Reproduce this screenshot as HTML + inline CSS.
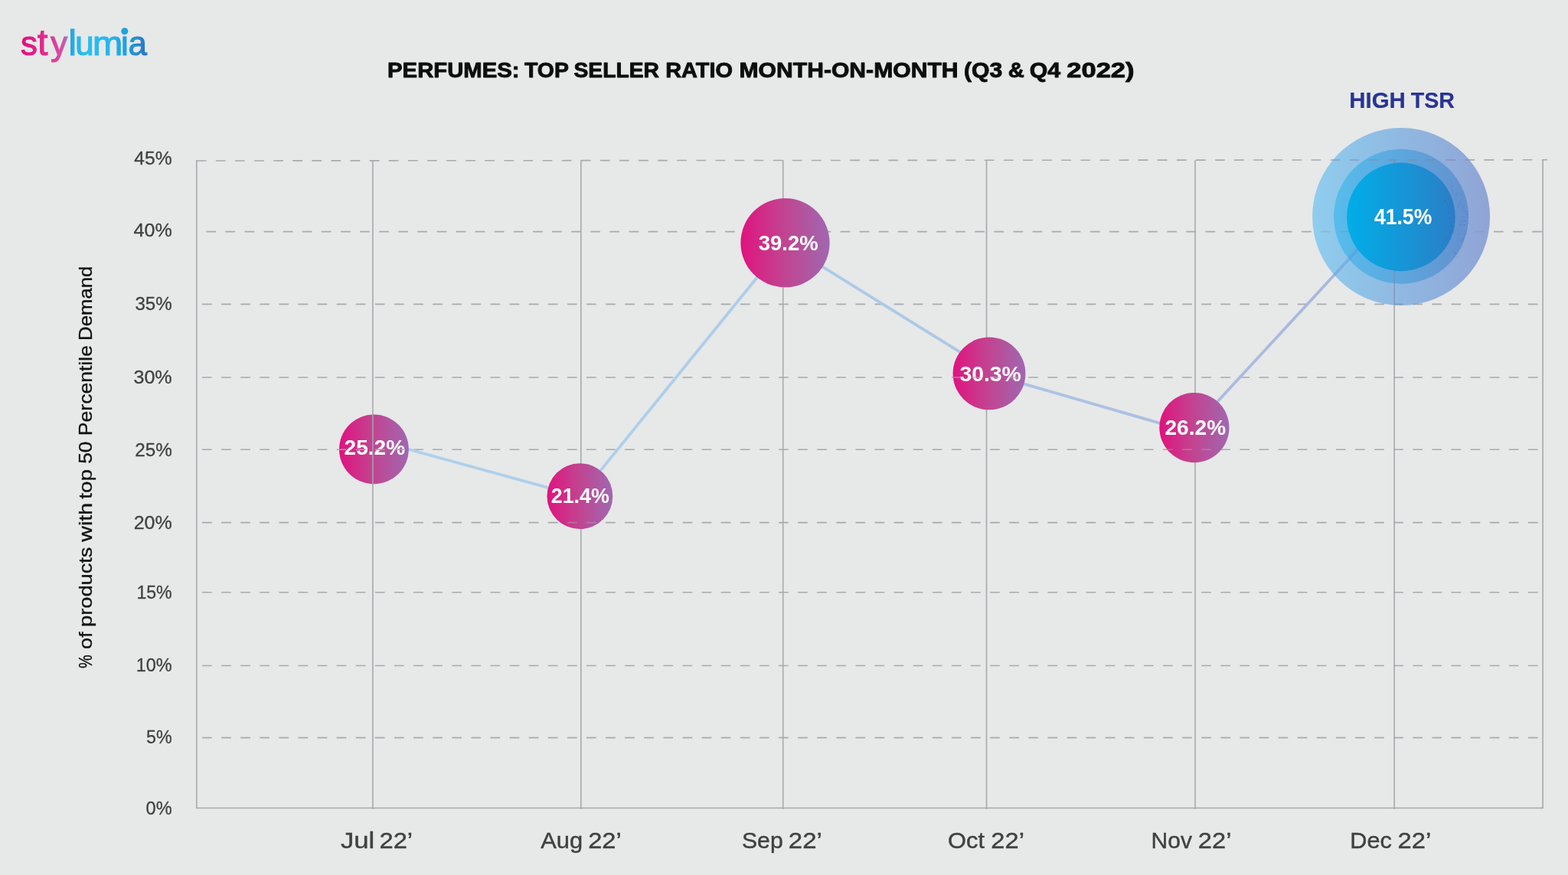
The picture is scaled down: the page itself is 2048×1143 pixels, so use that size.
<!DOCTYPE html>
<html lang="en"><head><meta charset="utf-8"><title>Perfumes: Top Seller Ratio Month-on-Month</title>
<style>
html,body{margin:0;padding:0;background:#e7e8e8;}
body{width:2048px;height:1143px;overflow:hidden;font-family:"Liberation Sans",sans-serif;}
svg{display:block;}
text{font-family:"Liberation Sans",sans-serif;}
</style></head><body>
<svg width="2048" height="1143" viewBox="0 0 2048 1143" role="img" aria-label="Perfumes: top seller ratio month-on-month (Q3 and Q4 2022)">
<defs>
<linearGradient id="pk" x1="0" y1="0" x2="1" y2="0"><stop offset="0" stop-color="#e0127f"/><stop offset="0.45" stop-color="#c4418f"/><stop offset="1" stop-color="#a068b0"/></linearGradient>
<linearGradient id="b1" x1="0" y1="0" x2="1" y2="0"><stop offset="0" stop-color="#00aee8"/><stop offset="1" stop-color="#2b7ec6"/></linearGradient>
<linearGradient id="b2" x1="0" y1="0" x2="1" y2="0"><stop offset="0" stop-color="#56bdec"/><stop offset="1" stop-color="#6490ce"/></linearGradient>
<linearGradient id="b3" x1="0" y1="0" x2="1" y2="0"><stop offset="0" stop-color="#8fcdee"/><stop offset="1" stop-color="#90a4d5"/></linearGradient>
<linearGradient id="ln" gradientUnits="userSpaceOnUse" x1="488" y1="0" x2="1830" y2="0"><stop offset="0" stop-color="#aed2eb"/><stop offset="0.4" stop-color="#adcde9"/><stop offset="0.6" stop-color="#acc6e4"/><stop offset="0.8" stop-color="#abbee0"/><stop offset="1" stop-color="#a6b5db"/></linearGradient>
<linearGradient id="lg" gradientUnits="userSpaceOnUse" x1="27" y1="0" x2="194" y2="0"><stop offset="0" stop-color="#e0107e"/><stop offset="0.2" stop-color="#e02d8e"/><stop offset="0.32" stop-color="#d550a2"/><stop offset="0.372" stop-color="#9a7cc0"/><stop offset="0.384" stop-color="#1fa6e4"/><stop offset="0.5" stop-color="#2bbff0"/><stop offset="0.7" stop-color="#27b6ec"/><stop offset="0.83" stop-color="#1b9fe0"/><stop offset="1" stop-color="#2a74bf"/></linearGradient>
</defs>
<rect width="2048" height="1143" fill="#e7e8e8"/>
<g fill="none" stroke="#a7a9ac" stroke-width="1.6">
<line x1="256.8" y1="210.00" x2="2021.0" y2="208.80" stroke-dasharray="12.7 12.4" stroke-width="1.6"/>
<line x1="269.3" y1="302.60" x2="2015.1" y2="302.60" stroke-dasharray="12.7 12.4" stroke-width="1.6"/>
<line x1="264.0" y1="397.40" x2="2009.0" y2="397.40" stroke-dasharray="12.7 12.4" stroke-width="1.6"/>
<line x1="264.0" y1="493.00" x2="2009.0" y2="493.00" stroke-dasharray="12.7 12.4" stroke-width="1.6"/>
<line x1="264.0" y1="587.20" x2="2009.0" y2="587.20" stroke-dasharray="12.7 12.4" stroke-width="1.6"/>
<line x1="264.0" y1="682.60" x2="2009.0" y2="682.60" stroke-dasharray="12.7 12.4" stroke-width="1.6"/>
<line x1="264.0" y1="773.70" x2="2009.0" y2="773.70" stroke-dasharray="12.7 12.4" stroke-width="1.6"/>
<line x1="264.0" y1="869.50" x2="2009.0" y2="869.50" stroke-dasharray="12.7 12.4" stroke-width="1.6"/>
<line x1="264.0" y1="963.60" x2="2009.0" y2="963.60" stroke-dasharray="12.7 12.4" stroke-width="1.6"/>
<line x1="256.8" y1="209.2" x2="256.8" y2="1055.5"/>
<line x1="486.9" y1="209.2" x2="486.9" y2="1057.0"/>
<line x1="758.8" y1="209.2" x2="758.8" y2="1057.0"/>
<line x1="1022.7" y1="209.2" x2="1022.7" y2="1057.0"/>
<line x1="1288.5" y1="209.2" x2="1288.5" y2="1057.0"/>
<line x1="1561.0" y1="209.2" x2="1561.0" y2="1057.0"/>
<line x1="1821.2" y1="209.2" x2="1821.2" y2="1057.0"/>
<line x1="2015.1" y1="208.2" x2="2015.1" y2="1056.2"/>
<line x1="256.1" y1="1055.5" x2="2015.8" y2="1055.5"/>
</g>
<g fill="none" stroke="url(#ln)" stroke-width="3.8">
<line x1="526.5" y1="585.0" x2="723.4" y2="639.1"/>
<line x1="779.3" y1="620.9" x2="993.3" y2="357.0"/>
<line x1="1067.7" y1="344.3" x2="1259.9" y2="463.6"/>
<line x1="1329.9" y1="499.3" x2="1522.2" y2="554.9"/>
<line x1="1585.6" y1="529.6" x2="1778.4" y2="320.5"/>
</g>
<clipPath id="cDec"><circle cx="1830.1" cy="283.1" r="116"/></clipPath>
<circle cx="1830.1" cy="283.1" r="116" fill="url(#b3)"/>
<circle cx="1830.1" cy="282.8" r="88" fill="url(#b2)"/>
<g clip-path="url(#cDec)" fill="none">
<g stroke="#7f8aa6" stroke-width="1.6" opacity="0.62"><line x1="256.8" y1="210.00" x2="2021.0" y2="208.80" stroke-dasharray="12.7 12.4" stroke-width="1.6"/><line x1="264.0" y1="397.40" x2="2009.0" y2="397.40" stroke-dasharray="12.7 12.4" stroke-width="1.6"/><line x1="1821.2" y1="209.2" x2="1821.2" y2="1057.0"/></g>
<g stroke="#7f8aa6" stroke-width="1.6" opacity="0.3"><line x1="269.3" y1="302.60" x2="2015.1" y2="302.60" stroke-dasharray="12.7 12.4" stroke-width="1.6"/></g>
<line x1="1591.0" y1="523.7" x2="1778.4" y2="320.5" stroke="#5f8fd2" stroke-width="3.8" opacity="0.4"/>
</g>
<circle cx="1829.9" cy="283.4" r="70.8" fill="url(#b1)"/>
<g fill="#4b4fae" opacity="0.32"><rect x="1895.8" y="272.8" width="1" height="1"/><rect x="1895.3" y="276.4" width="1" height="1"/><rect x="1886.4" y="254.0" width="1" height="1"/><rect x="1888.6" y="312.6" width="1" height="1"/><rect x="1899.9" y="294.1" width="1" height="1"/><rect x="1890.8" y="271.1" width="1" height="1"/><rect x="1891.7" y="272.5" width="1" height="1"/><rect x="1894.7" y="294.0" width="1" height="1"/><rect x="1892.3" y="291.1" width="1" height="1"/><rect x="1896.6" y="281.4" width="1" height="1"/><rect x="1898.5" y="283.4" width="1" height="1"/><rect x="1894.8" y="303.7" width="1" height="1"/><rect x="1898.1" y="289.5" width="1" height="1"/><rect x="1890.8" y="256.2" width="1" height="1"/><rect x="1886.5" y="261.3" width="1" height="1"/><rect x="1895.3" y="301.2" width="1" height="1"/><rect x="1890.6" y="317.9" width="1" height="1"/><rect x="1895.3" y="295.1" width="1" height="1"/><rect x="1892.4" y="285.4" width="1" height="1"/><rect x="1898.2" y="304.8" width="1" height="1"/><rect x="1890.0" y="312.8" width="1" height="1"/><rect x="1894.4" y="301.1" width="1" height="1"/><rect x="1887.2" y="262.4" width="1" height="1"/><rect x="1890.5" y="308.3" width="1" height="1"/><rect x="1892.0" y="278.9" width="1" height="1"/><rect x="1899.3" y="283.0" width="1" height="1"/><rect x="1892.5" y="269.8" width="1" height="1"/><rect x="1888.0" y="260.6" width="1" height="1"/><rect x="1893.3" y="265.6" width="1" height="1"/><rect x="1892.6" y="268.4" width="1" height="1"/><rect x="1899.1" y="276.1" width="1" height="1"/><rect x="1895.3" y="303.1" width="1" height="1"/><rect x="1897.9" y="302.5" width="1" height="1"/><rect x="1890.9" y="311.0" width="1" height="1"/><rect x="1884.5" y="254.5" width="1" height="1"/><rect x="1887.0" y="262.0" width="1" height="1"/><rect x="1881.1" y="250.9" width="1" height="1"/><rect x="1898.3" y="275.7" width="1" height="1"/><rect x="1893.4" y="296.4" width="1" height="1"/><rect x="1891.8" y="275.5" width="1" height="1"/><rect x="1892.6" y="284.8" width="1" height="1"/><rect x="1886.5" y="257.0" width="1" height="1"/><rect x="1887.0" y="312.1" width="1" height="1"/><rect x="1886.2" y="261.0" width="1" height="1"/><rect x="1899.2" y="289.8" width="1" height="1"/><rect x="1893.1" y="303.1" width="1" height="1"/><rect x="1894.6" y="290.0" width="1" height="1"/><rect x="1893.4" y="306.9" width="1" height="1"/><rect x="1891.1" y="276.3" width="1" height="1"/><rect x="1895.3" y="269.1" width="1" height="1"/><rect x="1889.8" y="265.8" width="1" height="1"/><rect x="1894.9" y="262.4" width="1" height="1"/><rect x="1891.5" y="315.1" width="1" height="1"/><rect x="1892.9" y="311.9" width="1" height="1"/><rect x="1890.4" y="306.8" width="1" height="1"/><rect x="1894.3" y="311.5" width="1" height="1"/><rect x="1897.6" y="279.1" width="1" height="1"/><rect x="1888.0" y="262.2" width="1" height="1"/><rect x="1891.9" y="275.8" width="1" height="1"/><rect x="1898.6" y="300.3" width="1" height="1"/><rect x="1898.7" y="281.7" width="1" height="1"/><rect x="1890.3" y="264.8" width="1" height="1"/><rect x="1890.8" y="267.1" width="1" height="1"/><rect x="1899.3" y="280.4" width="1" height="1"/><rect x="1911.3" y="272.5" width="1" height="1"/><rect x="1905.8" y="329.0" width="1" height="1"/><rect x="1911.9" y="287.6" width="1" height="1"/><rect x="1908.6" y="254.8" width="1" height="1"/><rect x="1907.4" y="254.1" width="1" height="1"/><rect x="1911.7" y="293.1" width="1" height="1"/><rect x="1906.9" y="292.7" width="1" height="1"/><rect x="1908.9" y="293.3" width="1" height="1"/><rect x="1907.7" y="314.7" width="1" height="1"/><rect x="1911.5" y="281.6" width="1" height="1"/><rect x="1911.1" y="288.6" width="1" height="1"/><rect x="1916.7" y="291.0" width="1" height="1"/><rect x="1900.3" y="330.4" width="1" height="1"/><rect x="1902.9" y="252.1" width="1" height="1"/><rect x="1896.2" y="248.6" width="1" height="1"/><rect x="1914.3" y="305.4" width="1" height="1"/><rect x="1914.4" y="304.4" width="1" height="1"/><rect x="1902.6" y="335.0" width="1" height="1"/><rect x="1916.6" y="276.4" width="1" height="1"/><rect x="1904.1" y="319.8" width="1" height="1"/><rect x="1908.1" y="288.9" width="1" height="1"/><rect x="1904.2" y="270.4" width="1" height="1"/><rect x="1905.9" y="292.5" width="1" height="1"/><rect x="1910.0" y="270.4" width="1" height="1"/><rect x="1897.4" y="251.4" width="1" height="1"/><rect x="1902.8" y="313.7" width="1" height="1"/><rect x="1914.9" y="279.2" width="1" height="1"/><rect x="1912.6" y="261.9" width="1" height="1"/><rect x="1906.6" y="294.1" width="1" height="1"/><rect x="1916.3" y="279.4" width="1" height="1"/><rect x="1905.8" y="300.2" width="1" height="1"/><rect x="1907.6" y="324.1" width="1" height="1"/><rect x="1912.1" y="282.7" width="1" height="1"/><rect x="1896.8" y="326.5" width="1" height="1"/><rect x="1907.1" y="290.0" width="1" height="1"/><rect x="1901.4" y="255.5" width="1" height="1"/><rect x="1912.3" y="267.8" width="1" height="1"/><rect x="1905.3" y="267.3" width="1" height="1"/><rect x="1907.4" y="272.5" width="1" height="1"/><rect x="1911.2" y="292.6" width="1" height="1"/><rect x="1903.2" y="331.2" width="1" height="1"/><rect x="1915.2" y="280.2" width="1" height="1"/><rect x="1913.1" y="276.3" width="1" height="1"/><rect x="1908.8" y="300.8" width="1" height="1"/><rect x="1895.3" y="247.1" width="1" height="1"/><rect x="1904.3" y="310.3" width="1" height="1"/><rect x="1906.4" y="266.2" width="1" height="1"/><rect x="1910.9" y="283.3" width="1" height="1"/><rect x="1903.8" y="269.6" width="1" height="1"/><rect x="1910.8" y="275.4" width="1" height="1"/><rect x="1900.8" y="259.8" width="1" height="1"/><rect x="1907.1" y="264.2" width="1" height="1"/><rect x="1896.9" y="244.6" width="1" height="1"/><rect x="1907.5" y="260.7" width="1" height="1"/><rect x="1910.1" y="313.2" width="1" height="1"/><rect x="1901.0" y="323.5" width="1" height="1"/><rect x="1899.4" y="335.1" width="1" height="1"/><rect x="1914.2" y="302.5" width="1" height="1"/><rect x="1903.7" y="252.0" width="1" height="1"/><rect x="1909.2" y="321.4" width="1" height="1"/><rect x="1906.5" y="305.1" width="1" height="1"/><rect x="1896.9" y="243.4" width="1" height="1"/><rect x="1912.9" y="293.4" width="1" height="1"/><rect x="1904.0" y="304.3" width="1" height="1"/><rect x="1913.5" y="287.7" width="1" height="1"/><rect x="1905.3" y="263.5" width="1" height="1"/><rect x="1911.0" y="311.1" width="1" height="1"/><rect x="1912.9" y="275.2" width="1" height="1"/><rect x="1908.8" y="314.5" width="1" height="1"/><rect x="1898.2" y="247.9" width="1" height="1"/><rect x="1908.7" y="311.9" width="1" height="1"/><rect x="1895.0" y="242.4" width="1" height="1"/><rect x="1911.8" y="305.1" width="1" height="1"/><rect x="1908.5" y="266.5" width="1" height="1"/><rect x="1916.1" y="283.8" width="1" height="1"/><rect x="1899.6" y="329.3" width="1" height="1"/><rect x="1908.2" y="282.5" width="1" height="1"/><rect x="1900.3" y="330.8" width="1" height="1"/><rect x="1908.4" y="250.0" width="1" height="1"/><rect x="1914.0" y="288.3" width="1" height="1"/><rect x="1905.9" y="286.1" width="1" height="1"/><rect x="1909.4" y="286.6" width="1" height="1"/><rect x="1901.8" y="253.1" width="1" height="1"/></g>
<clipPath id="cJul"><circle cx="488.4" cy="586.9" r="45.4"/></clipPath>
<circle cx="488.4" cy="586.9" r="45.4" fill="url(#pk)"/>
<clipPath id="cAug"><circle cx="757.4" cy="648.2" r="42.9"/></clipPath>
<circle cx="757.4" cy="648.2" r="42.9" fill="url(#pk)"/>
<clipPath id="cSep"><circle cx="1025.5" cy="317.2" r="58.1"/></clipPath>
<circle cx="1025.5" cy="317.2" r="58.1" fill="url(#pk)"/>
<clipPath id="cOct"><circle cx="1292.0" cy="487.9" r="47.4"/></clipPath>
<circle cx="1292.0" cy="487.9" r="47.4" fill="url(#pk)"/>
<clipPath id="cNov"><circle cx="1559.9" cy="558.6" r="45.6"/></clipPath>
<circle cx="1559.9" cy="558.6" r="45.6" fill="url(#pk)"/>
<text x="449.62" textLength="79.58" lengthAdjust="spacingAndGlyphs" y="594.25" font-size="28.5" font-weight="700" fill="#ffffff">25.2%</text>
<text x="719.84" textLength="75.96" lengthAdjust="spacingAndGlyphs" y="657.10" font-size="27.8" font-weight="700" fill="#ffffff">21.4%</text>
<text x="990.75" textLength="78.00" lengthAdjust="spacingAndGlyphs" y="327.10" font-size="27.6" font-weight="700" fill="#ffffff">39.2%</text>
<text x="1253.44" textLength="80.38" lengthAdjust="spacingAndGlyphs" y="497.70" font-size="27.85" font-weight="700" fill="#ffffff">30.3%</text>
<text x="1521.48" textLength="79.67" lengthAdjust="spacingAndGlyphs" y="567.60" font-size="27.5" font-weight="700" fill="#ffffff">26.2%</text>
<text x="1794.94" textLength="75.34" lengthAdjust="spacingAndGlyphs" y="292.50" font-size="28.7" font-weight="700" fill="#ffffff">41.5%</text>
<g fill="none" stroke="#a7a9ac" stroke-width="1.6">
<g clip-path="url(#cJul)" stroke="#a4a1ad"><line x1="264.0" y1="587.20" x2="2009.0" y2="587.20" stroke-dasharray="12.7 12.4" stroke-width="1.6"/><line x1="486.9" y1="209.2" x2="486.9" y2="1057.0"/></g>
<g clip-path="url(#cAug)" opacity="0.5"><line x1="264.0" y1="682.60" x2="2009.0" y2="682.60" stroke-dasharray="12.7 12.4" stroke-width="1.6"/></g>
<g clip-path="url(#cOct)" opacity="0.7"><line x1="264.0" y1="493.00" x2="2009.0" y2="493.00" stroke-dasharray="12.7 12.4" stroke-width="1.6"/></g>
<g clip-path="url(#cNov)" opacity="0.5"><line x1="264.0" y1="587.20" x2="2009.0" y2="587.20" stroke-dasharray="12.7 12.4" stroke-width="1.6"/></g>
</g>
<text x="175.39" textLength="49.33" lengthAdjust="spacingAndGlyphs" y="214.70" font-size="24" font-weight="400" fill="#414042" stroke="#414042" stroke-width="0.3" stroke-linejoin="round">45%</text>
<text x="174.58" textLength="50.15" lengthAdjust="spacingAndGlyphs" y="308.90" font-size="24" font-weight="400" fill="#414042" stroke="#414042" stroke-width="0.3" stroke-linejoin="round">40%</text>
<text x="176.45" textLength="48.25" lengthAdjust="spacingAndGlyphs" y="405.40" font-size="24" font-weight="400" fill="#414042" stroke="#414042" stroke-width="0.3" stroke-linejoin="round">35%</text>
<text x="174.41" textLength="50.32" lengthAdjust="spacingAndGlyphs" y="500.90" font-size="24" font-weight="400" fill="#414042" stroke="#414042" stroke-width="0.3" stroke-linejoin="round">30%</text>
<text x="176.19" textLength="48.51" lengthAdjust="spacingAndGlyphs" y="595.70" font-size="24" font-weight="400" fill="#414042" stroke="#414042" stroke-width="0.3" stroke-linejoin="round">25%</text>
<text x="174.66" textLength="50.07" lengthAdjust="spacingAndGlyphs" y="690.70" font-size="24" font-weight="400" fill="#414042" stroke="#414042" stroke-width="0.3" stroke-linejoin="round">20%</text>
<text x="178.42" textLength="46.25" lengthAdjust="spacingAndGlyphs" y="781.80" font-size="24" font-weight="400" fill="#414042" stroke="#414042" stroke-width="0.3" stroke-linejoin="round">15%</text>
<text x="177.69" textLength="46.99" lengthAdjust="spacingAndGlyphs" y="877.40" font-size="24" font-weight="400" fill="#414042" stroke="#414042" stroke-width="0.3" stroke-linejoin="round">10%</text>
<text x="190.97" textLength="33.59" lengthAdjust="spacingAndGlyphs" y="971.10" font-size="24" font-weight="400" fill="#414042" stroke="#414042" stroke-width="0.3" stroke-linejoin="round">5%</text>
<text x="190.56" textLength="34.01" lengthAdjust="spacingAndGlyphs" y="1063.80" font-size="24" font-weight="400" fill="#414042" stroke="#414042" stroke-width="0.3" stroke-linejoin="round">0%</text>
<text y="1107.70" font-size="28.6" font-weight="400" fill="#414042" stroke="#414042" stroke-width="0.4" stroke-linejoin="round"><tspan x="444.90" textLength="44.40" lengthAdjust="spacingAndGlyphs">Jul</tspan> <tspan x="495.47" textLength="43.64" lengthAdjust="spacingAndGlyphs">22’</tspan></text>
<text y="1107.70" font-size="28.6" font-weight="400" fill="#414042" stroke="#414042" stroke-width="0.4" stroke-linejoin="round"><tspan x="706.20" textLength="54.97" lengthAdjust="spacingAndGlyphs">Aug</tspan> <tspan x="768.17" textLength="43.64" lengthAdjust="spacingAndGlyphs">22’</tspan></text>
<text y="1107.70" font-size="28.6" font-weight="400" fill="#414042" stroke="#414042" stroke-width="0.4" stroke-linejoin="round"><tspan x="968.98" textLength="53.76" lengthAdjust="spacingAndGlyphs">Sep</tspan> <tspan x="1029.86" textLength="43.97" lengthAdjust="spacingAndGlyphs">22’</tspan></text>
<text y="1107.70" font-size="28.6" font-weight="400" fill="#414042" stroke="#414042" stroke-width="0.4" stroke-linejoin="round"><tspan x="1238.05" textLength="47.93" lengthAdjust="spacingAndGlyphs">Oct</tspan> <tspan x="1294.37" textLength="43.53" lengthAdjust="spacingAndGlyphs">22’</tspan></text>
<text y="1107.70" font-size="28.6" font-weight="400" fill="#414042" stroke="#414042" stroke-width="0.4" stroke-linejoin="round"><tspan x="1503.64" textLength="53.42" lengthAdjust="spacingAndGlyphs">Nov</tspan> <tspan x="1564.87" textLength="43.53" lengthAdjust="spacingAndGlyphs">22’</tspan></text>
<text y="1107.70" font-size="28.6" font-weight="400" fill="#414042" stroke="#414042" stroke-width="0.4" stroke-linejoin="round"><tspan x="1763.39" textLength="54.57" lengthAdjust="spacingAndGlyphs">Dec</tspan> <tspan x="1825.57" textLength="43.64" lengthAdjust="spacingAndGlyphs">22’</tspan></text>
<g transform="translate(120.4,873) rotate(-90)">
<text y="0.00" font-size="24.3" font-weight="400" fill="#111111" stroke="#111111" stroke-width="0.35" stroke-linejoin="round"><tspan x="-0.01" textLength="17.61" lengthAdjust="spacingAndGlyphs">%</tspan> <tspan x="24.96" textLength="22.57" lengthAdjust="spacingAndGlyphs">of</tspan> <tspan x="54.02" textLength="104.47" lengthAdjust="spacingAndGlyphs">products</tspan> <tspan x="165.39" textLength="50.73" lengthAdjust="spacingAndGlyphs">with</tspan> <tspan x="221.21" textLength="38.68" lengthAdjust="spacingAndGlyphs">top</tspan> <tspan x="267.19" textLength="29.15" lengthAdjust="spacingAndGlyphs">50</tspan> <tspan x="303.89" textLength="118.16" lengthAdjust="spacingAndGlyphs">Percentile</tspan> <tspan x="428.04" textLength="97.38" lengthAdjust="spacingAndGlyphs">Demand</tspan></text>
</g>
<text y="100.70" font-size="27.2" font-weight="700" fill="#0d0d0d" stroke="#0d0d0d" stroke-width="0.9" stroke-linejoin="round"><tspan x="506.05" textLength="172.54" lengthAdjust="spacingAndGlyphs">PERFUMES:</tspan> <tspan x="684.96" textLength="57.46" lengthAdjust="spacingAndGlyphs">TOP</tspan> <tspan x="749.44" textLength="111.56" lengthAdjust="spacingAndGlyphs">SELLER</tspan> <tspan x="869.17" textLength="87.83" lengthAdjust="spacingAndGlyphs">RATIO</tspan> <tspan x="965.52" textLength="286.05" lengthAdjust="spacingAndGlyphs">MONTH-ON-MONTH</tspan> <tspan x="1259.09" textLength="50.25" lengthAdjust="spacingAndGlyphs">(Q3</tspan> <tspan x="1316.69" textLength="21.13" lengthAdjust="spacingAndGlyphs">&amp;</tspan> <tspan x="1344.77" textLength="40.39" lengthAdjust="spacingAndGlyphs">Q4</tspan> <tspan x="1393.26" textLength="88.35" lengthAdjust="spacingAndGlyphs">2022)</tspan></text>
<text y="140.70" font-size="29.6" font-weight="700" fill="#283593" stroke="#283593" stroke-width="0.2" stroke-linejoin="round"><tspan x="1762.16" textLength="73.72" lengthAdjust="spacingAndGlyphs">HIGH</tspan> <tspan x="1842.76" textLength="57.21" lengthAdjust="spacingAndGlyphs">TSR</tspan></text>
<text y="72.3" fill="url(#lg)" stroke="url(#lg)" stroke-width="1.2"><tspan x="26.90" font-size="43.8">s</tspan><tspan x="49.10" font-size="48">t</tspan><tspan x="66.20" font-size="43.8">y</tspan><tspan x="89.50" font-size="46.8">l</tspan><tspan x="98.20" font-size="43.8">u</tspan><tspan x="121.00" font-size="43.8" textLength="39.2" lengthAdjust="spacingAndGlyphs">m</tspan><tspan x="158.05" font-size="43.8">i</tspan><tspan x="167.40" font-size="43.8">a</tspan></text>
<circle cx="162.8" cy="40.7" r="4.5" fill="#1ca3e3"/>
</svg>
</body></html>
